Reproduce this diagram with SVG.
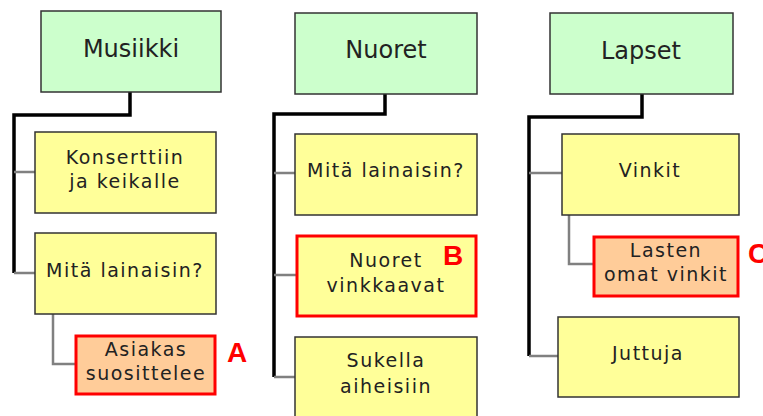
<svg xmlns="http://www.w3.org/2000/svg" width="763" height="416" viewBox="0 0 763 416">
  <style>
    .box rect { stroke: #333333; stroke-width: 1.5; }
    .sec rect { fill: #ccffcc; }
    .item rect { fill: #ffff99; }
    .mark rect { stroke: #ff0000; stroke-width: 3; }
    .tip rect { fill: #ffcc99; }
    text { font-family: "DejaVu Sans", Verdana, sans-serif; fill: #222222; text-anchor: middle; }
    .big { font-size: 24px; }
    .sm { font-size: 19px; letter-spacing: 1.5px; }
    .tag { font-family: "Liberation Sans", Arial, sans-serif; font-weight: bold; fill: #ff0000; text-anchor: start; font-size: 28px; }
    .main { fill: none; stroke: #000000; stroke-width: 3.5; }
    .sub { fill: none; stroke: #808080; stroke-width: 2.5; }
  </style>

  <!-- tree connectors -->
  <g id="connectors">
    <path class="main" d="M130 92 V115 H14 V273"/>
    <path class="sub" d="M14 172 H35 M14 273 H35"/>
    <path class="sub" d="M53 314 V364 H75"/>

    <path class="main" d="M385 94 V114 H274 V377"/>
    <path class="sub" d="M274 173 H295 M274 275 H296 M274 377 H295"/>

    <path class="main" d="M642 94 V117 H529 V356"/>
    <path class="sub" d="M529 173 H562 M529 356 H558"/>
    <path class="sub" d="M569 215 V264 H593"/>
  </g>

  <!-- Musiikki column -->
  <g id="musiikki" class="box sec">
    <rect x="41" y="11" width="180" height="81"/>
    <text class="big" x="131" y="57">Musiikki</text>
  </g>
  <g id="konsertti" class="box item">
    <rect x="35" y="132" width="181" height="81"/>
    <text class="sm" x="125" y="164">Konserttiin</text>
    <text class="sm" x="125" y="188">ja keikalle</text>
  </g>
  <g id="musiikki-lainaisin" class="box item">
    <rect x="35" y="233" width="181" height="81"/>
    <text class="sm" x="125" y="277">Mitä lainaisin?</text>
  </g>
  <g id="asiakas" class="box tip mark">
    <rect x="76" y="336" width="139" height="58"/>
    <text class="sm" x="146" y="356">Asiakas</text>
    <text class="sm" x="146" y="380">suosittelee</text>
    <text class="tag" x="227" y="362">A</text>
  </g>

  <!-- Nuoret column -->
  <g id="nuoret" class="box sec">
    <rect x="295" y="13" width="182" height="81"/>
    <text class="big" x="386" y="58">Nuoret</text>
  </g>
  <g id="nuoret-lainaisin" class="box item">
    <rect x="295" y="134" width="182" height="81"/>
    <text class="sm" x="386" y="177">Mitä lainaisin?</text>
  </g>
  <g id="nuoret-vinkkaavat" class="box item mark">
    <rect x="297" y="236" width="179" height="80"/>
    <text class="sm" x="386" y="267">Nuoret</text>
    <text class="sm" x="386" y="292">vinkkaavat</text>
    <text class="tag" x="443" y="265">B</text>
  </g>
  <g id="sukella" class="box item">
    <rect x="295" y="337" width="182" height="90"/>
    <text class="sm" x="386" y="367">Sukella</text>
    <text class="sm" x="386" y="393">aiheisiin</text>
  </g>

  <!-- Lapset column -->
  <g id="lapset" class="box sec">
    <rect x="550" y="13" width="183" height="81"/>
    <text class="big" x="641" y="59">Lapset</text>
  </g>
  <g id="vinkit" class="box item">
    <rect x="562" y="134" width="177" height="81"/>
    <text class="sm" x="650" y="177">Vinkit</text>
  </g>
  <g id="lasten-vinkit" class="box tip mark">
    <rect x="594" y="237" width="144" height="59"/>
    <text class="sm" x="666" y="257">Lasten</text>
    <text class="sm" x="666" y="281">omat vinkit</text>
    <text class="tag" x="748" y="263">C</text>
  </g>
  <g id="juttuja" class="box item">
    <rect x="558" y="317" width="181" height="80"/>
    <text class="sm" x="648" y="360">Juttuja</text>
  </g>
</svg>
